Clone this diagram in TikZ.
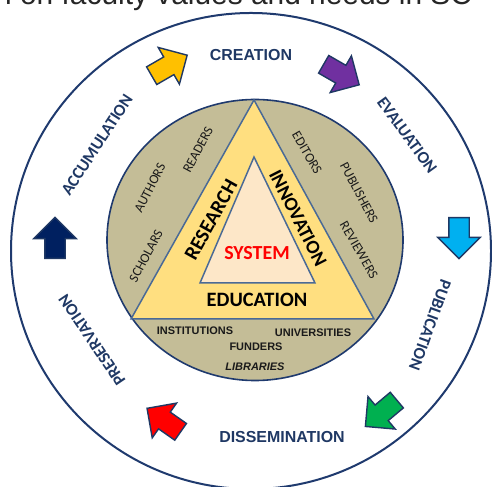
\documentclass[tikz,border=0pt]{standalone}
\usepackage{fontspec}
\setmainfont{Carlito}
\newfontfamily\arialfont{Liberation Sans}
\usetikzlibrary{shapes.arrows}

\definecolor{ringline}{HTML}{1F3A6E}
\definecolor{ringtext}{HTML}{1F3864}
\definecolor{tanfill}{HTML}{C4BD97}
\definecolor{goldfill}{HTML}{FFDF80}
\definecolor{peachfill}{HTML}{FDE7C8}
\definecolor{edgeblue}{HTML}{4A6A96}
\definecolor{arrowline}{HTML}{1F3864}
\definecolor{cYellow}{HTML}{FFC000}
\definecolor{cPurple}{HTML}{7030A0}
\definecolor{cSky}{HTML}{00B0F0}
\definecolor{cGreen}{HTML}{00B050}
\definecolor{cRed}{HTML}{FF0000}
\definecolor{cNavy}{HTML}{002060}
\definecolor{labeltext}{HTML}{1A1A1A}

\newcommand{\fs}[1]{\fontsize{#1}{#1}\selectfont}
% empty box that sets the shaft thickness of a block arrow
\newcommand{\shaftbox}{\rule{0pt}{19bp}}

\begin{document}
\begin{tikzpicture}[x=1bp,y=1bp,
  ringlabel/.style={text=ringtext, font=\bfseries\fs{17}, inner sep=0pt},
  ringbold/.style={text=ringtext, font=\arialfont\bfseries\fs{16}, inner sep=0pt},
  roleslabel/.style={text=labeltext, font=\fs{13.5}, inner sep=0pt},
  bodylabel/.style={text=labeltext, font=\arialfont\bfseries\fs{11}, inner sep=0pt},
  corelabel/.style={text=black, font=\bfseries\fs{20.5}, inner sep=0pt},
  blockarrow/.style={single arrow, draw=arrowline, line width=1.4bp,
    minimum height=41bp, single arrow head extend=11bp,
    single arrow head indent=0pt, inner xsep=0pt, inner ysep=0pt}
]
\useasboundingbox (0,0) rectangle (492,487);

% heading line, cut by the page edge
\node[anchor=base west, font=\arialfont\fs{30}, text=black!85, inner sep=0pt]
  (heading) at (-5,482) {n on faculty values and needs in SC};

% outer cycle ring
\draw[ringline, line width=2bp] (251,236) ellipse [x radius=240, y radius=238];

% inner disc of actors
\draw[ringline, line width=1.6bp, fill=tanfill] (255,247) ellipse [x radius=148, y radius=140.5];

% triangle of missions and the system core
\coordinate (apex) at (254,387);
\coordinate (bl) at (131,168);
\coordinate (br) at (374,168);
\draw[edgeblue, line width=1.5bp, fill=goldfill] (apex) -- (bl) -- (br) -- cycle;
\coordinate (iapex) at (254,330);
\coordinate (ibl) at (200,204);
\coordinate (ibr) at (315,204);
\draw[edgeblue, line width=1.5bp, fill=peachfill] (iapex) -- (ibl) -- (ibr) -- cycle;

\node[corelabel, rotate=61] (research) at (211,267) {RESEARCH};
\node[corelabel, font=\bfseries\fs{19.5}, rotate=-63] (innovation) at (298,269) {INNOVATION};
\node[corelabel, text=cRed, font=\bfseries\fs{20}] (system) at (257,234) {SYSTEM};
\node[corelabel] (education) at (257,187) {EDUCATION};

% actors in the disc
\node[roleslabel, rotate=62] (readers) at (198,337) {READERS};
\node[roleslabel, rotate=63] (authors) at (150,299) {AUTHORS};
\node[roleslabel, rotate=62] (scholars) at (146,231) {SCHOLARS};
\node[roleslabel, rotate=-60] (editors) at (307,334) {EDITORS};
\node[roleslabel, rotate=-62] (publishers) at (359,294) {PUBLISHERS};
\node[roleslabel, rotate=-60] (reviewers) at (359,237) {REVIEWERS};

\node[bodylabel] (institutions) at (195,156) {INSTITUTIONS};
\node[bodylabel] (universities) at (313,154) {UNIVERSITIES};
\node[bodylabel] (funders) at (256,140) {FUNDERS};
\node[bodylabel, font=\arialfont\bfseries\itshape\fs{11}] (libraries) at (255,120) {LIBRARIES};

% stages of the cycle
\node[ringbold] (creation) at (251,432) {CREATION};
\node[ringlabel, rotate=-54] (evaluation) at (407,352) {EVALUATION};
\node[ringlabel, rotate=-110] (publication) at (430,162) {PUBLICATION};
\node[ringbold] (dissemination) at (282,50) {DISSEMINATION};
\node[ringlabel, rotate=124] (preservation) at (92,147) {PRESERVATION};
\node[ringlabel, rotate=57] (accumulation) at (97,342) {ACCUMULATION};

% arrows between the stages
\node[blockarrow, fill=cYellow, rotate=30] (toCreation) at (165,419) {\shaftbox};
\node[blockarrow, fill=cPurple, rotate=-30] (toEvaluation) at (337,415) {\shaftbox};
\node[blockarrow, fill=cSky, rotate=-90] (toPublication) at (459,254) {\shaftbox};
\node[blockarrow, fill=cGreen, rotate=-140] (toDissemination) at (385,77) {\shaftbox};
\node[blockarrow, fill=cRed, rotate=145] (toPreservation) at (168,64) {\shaftbox};
\node[blockarrow, fill=cNavy, rotate=90] (toAccumulation) at (55,244) {\shaftbox};
\end{tikzpicture}
\end{document}
